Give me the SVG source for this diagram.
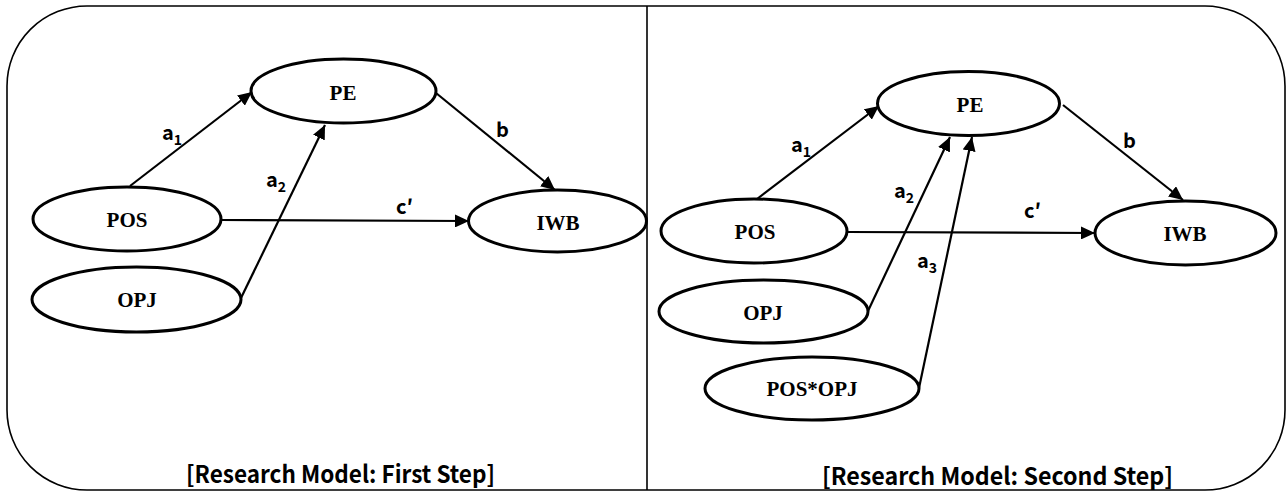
<svg xmlns="http://www.w3.org/2000/svg" width="1286" height="493" viewBox="0 0 1286 493">
<defs>
<marker id="arr" markerUnits="userSpaceOnUse" markerWidth="15" markerHeight="13" refX="14" refY="6.5" orient="auto">
<path d="M0,0 L14,6.5 L0,13 z" fill="#000"/>
</marker>
<style>
.node ellipse{fill:#fff;stroke:#000;stroke-width:3}
.node text{font-family:"Liberation Serif","Times New Roman",serif;font-weight:bold;font-size:21px;text-anchor:middle;dominant-baseline:central;fill:#000}
.conn line{stroke:#000;stroke-width:2.2;marker-end:url(#arr)}
.lbl{font-family:"Noto Sans CJK KR","Noto Sans",sans-serif;font-weight:bold;font-size:20px;fill:#000}
.sub{font-size:14px}
.title{font-family:"Noto Sans CJK KR","Noto Sans",sans-serif;font-weight:bold;font-size:24px;fill:#000}
</style>
</defs>
<rect x="0" y="0" width="1286" height="493" fill="#fff"/>
<rect x="7" y="6" width="1278" height="484" rx="80" ry="80" fill="none" stroke="#000" stroke-width="1.6"/>
<line x1="647" y1="6" x2="647" y2="490" stroke="#000" stroke-width="1.6"/>

<g id="connectors" class="conn">
<line x1="130" y1="186" x2="252" y2="92"/>
<line x1="241" y1="298" x2="325" y2="125"/>
<line x1="436" y1="93" x2="555" y2="190"/>
<line x1="221" y1="220" x2="469" y2="221"/>
<line x1="757" y1="199" x2="879" y2="106"/>
<line x1="868" y1="311" x2="950" y2="137"/>
<line x1="919" y1="388" x2="972" y2="137"/>
<line x1="1063" y1="105" x2="1183" y2="200"/>
<line x1="847" y1="232" x2="1095" y2="233"/>
</g>

<g id="labels">
<text class="lbl" x="162" y="140">a<tspan class="sub" dy="5">1</tspan></text>
<text class="lbl" x="266" y="187">a<tspan class="sub" dy="5">2</tspan></text>
<text class="lbl" x="496" y="137">b</text>
<text class="lbl" x="396" y="214">c′</text>
<text class="lbl" x="791" y="152">a<tspan class="sub" dy="5">1</tspan></text>
<text class="lbl" x="894" y="198">a<tspan class="sub" dy="5">2</tspan></text>
<text class="lbl" x="917" y="268">a<tspan class="sub" dy="5">3</tspan></text>
<text class="lbl" x="1123" y="148">b</text>
<text class="lbl" x="1024" y="218">c′</text>
</g>

<g id="L-PE" class="node"><ellipse cx="343.5" cy="91" rx="92.5" ry="32"/><text x="343" y="93">PE</text></g>
<g id="L-POS" class="node"><ellipse cx="127" cy="219" rx="94" ry="32"/><text x="127" y="220">POS</text></g>
<g id="L-OPJ" class="node"><ellipse cx="136.5" cy="299.5" rx="104.5" ry="32.5"/><text x="137" y="300">OPJ</text></g>
<g id="L-IWB" class="node"><ellipse cx="557.5" cy="221" rx="89" ry="31"/><text x="558" y="223">IWB</text></g>

<g id="R-PE" class="node"><ellipse cx="968.5" cy="103.5" rx="91" ry="32"/><text x="970" y="105">PE</text></g>
<g id="R-POS" class="node"><ellipse cx="754" cy="231" rx="93" ry="32"/><text x="755" y="232">POS</text></g>
<g id="R-OPJ" class="node"><ellipse cx="763.5" cy="311.5" rx="104.5" ry="31.5"/><text x="763" y="313">OPJ</text></g>
<g id="R-POSOPJ" class="node"><ellipse cx="812" cy="388.5" rx="107" ry="31.5"/><text x="812" y="389">POS*OPJ</text></g>
<g id="R-IWB" class="node"><ellipse cx="1185.5" cy="233" rx="90.5" ry="32"/><text x="1185" y="234">IWB</text></g>

<text class="title" x="186" y="483" textLength="309" lengthAdjust="spacingAndGlyphs">[Research Model: First Step]</text>
<text class="title" x="822" y="485" textLength="351" lengthAdjust="spacingAndGlyphs">[Research Model: Second Step]</text>
</svg>
